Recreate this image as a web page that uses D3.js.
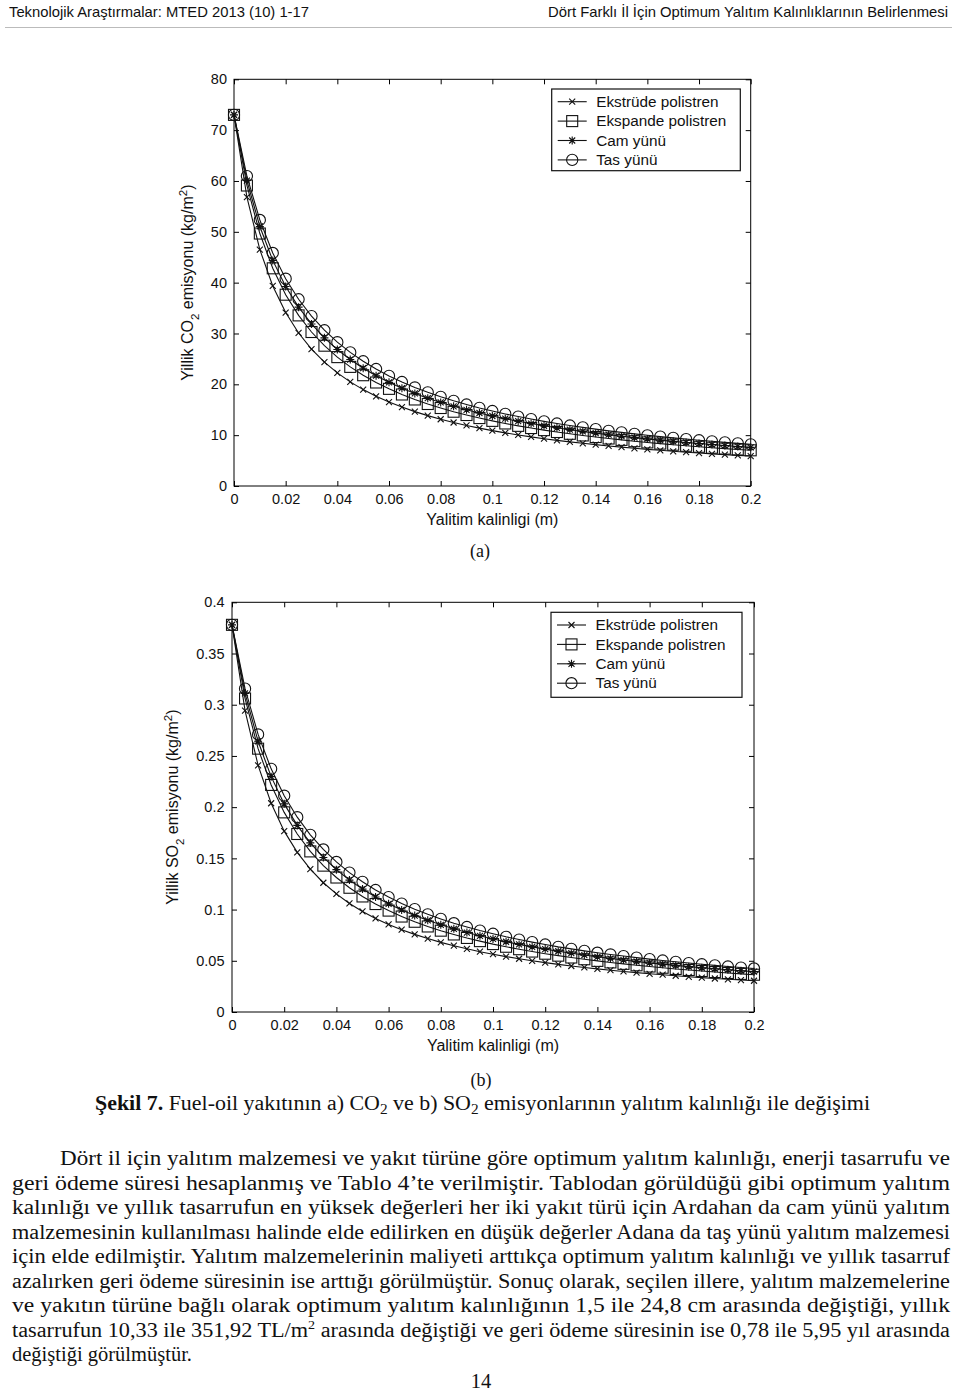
<!DOCTYPE html>
<html><head><meta charset="utf-8">
<script src="https://cdn.jsdelivr.net/npm/d3@7"></script>
<style>body{margin:0;background:#fff} svg{display:block}</style>
</head><body>
<svg id="page" width="960" height="1391"></svg>
<script>
// ---------------- DATA ----------------
const thickness = [0,0.005,0.01,0.015,0.02,0.025,0.03,0.035,0.04,0.045,0.05,0.055,0.06,0.065,0.07,0.075,0.08,0.085,0.09,0.095,0.1,0.105,0.11,0.115,0.12,0.125,0.13,0.135,0.14,0.145,0.15,0.155,0.16,0.165,0.17,0.175,0.18,0.185,0.19,0.195,0.2];
const seriesNames = ["Ekstrüde polistren","Ekspande polistren","Cam yünü","Tas yünü"];

const co2Ekstrude = [73.00,56.81,46.50,39.35,34.11,30.10,26.94,24.37,22.26,20.48,18.96,17.65,16.52,15.52,14.63,13.84,13.13,12.49,11.91,11.38,10.90,10.45,10.04,9.66,9.31,8.98,8.68,8.40,8.13,7.88,7.64,7.42,7.21,7.02,6.83,6.65,6.48,6.32,6.17,6.03,5.89];
const co2Ekspande = [73.00,59.11,49.66,42.82,37.63,33.56,30.29,27.60,25.35,23.43,21.79,20.36,19.11,18.00,17.02,16.13,15.34,14.61,13.96,13.36,12.81,12.30,11.83,11.40,10.99,10.62,10.27,9.94,9.63,9.34,9.07,8.81,8.57,8.34,8.12,7.91,7.72,7.53,7.35,7.18,7.02];
const co2Cam = [73.00,60.08,51.05,44.38,39.25,35.18,31.88,29.14,26.84,24.87,23.17,21.69,20.39,19.24,18.20,17.28,16.44,15.68,14.99,14.36,13.77,13.24,12.74,12.28,11.85,11.45,11.08,10.73,10.40,10.09,9.80,9.52,9.26,9.02,8.78,8.56,8.35,8.15,7.96,7.78,7.60];
const co2Tas = [73.00,60.96,52.33,45.84,40.78,36.73,33.41,30.64,28.29,26.28,24.54,23.01,21.66,20.46,19.39,18.42,17.55,16.75,16.03,15.36,14.75,14.18,13.66,13.17,12.72,12.29,11.90,11.53,11.18,10.85,10.54,10.25,9.97,9.71,9.46,9.23,9.00,8.79,8.58,8.39,8.20];

const so2Ekstrude = [0.378,0.2942,0.2408,0.2038,0.1766,0.1559,0.1395,0.1262,0.1153,0.1060,0.0982,0.0914,0.0855,0.0804,0.0758,0.0717,0.0680,0.0647,0.0617,0.0589,0.0564,0.0541,0.0520,0.0500,0.0482,0.0465,0.0449,0.0435,0.0421,0.0408,0.0396,0.0384,0.0373,0.0364,0.0354,0.0344,0.0336,0.0327,0.0319,0.0312,0.0305];
const so2Ekspande = [0.378,0.3061,0.2571,0.2217,0.1949,0.1738,0.1568,0.1429,0.1313,0.1213,0.1128,0.1054,0.0990,0.0932,0.0881,0.0835,0.0794,0.0757,0.0723,0.0692,0.0663,0.0637,0.0613,0.0590,0.0569,0.0550,0.0532,0.0515,0.0499,0.0484,0.0470,0.0456,0.0444,0.0432,0.0420,0.0410,0.0400,0.0390,0.0381,0.0372,0.0364];
const so2Cam = [0.378,0.3111,0.2643,0.2298,0.2032,0.1822,0.1651,0.1509,0.1390,0.1288,0.1200,0.1123,0.1056,0.0996,0.0942,0.0895,0.0851,0.0812,0.0776,0.0744,0.0713,0.0686,0.0660,0.0636,0.0614,0.0593,0.0574,0.0556,0.0539,0.0522,0.0507,0.0493,0.0479,0.0467,0.0455,0.0443,0.0432,0.0422,0.0412,0.0403,0.0394];
const so2Tas = [0.378,0.3157,0.2710,0.2374,0.2112,0.1902,0.1730,0.1587,0.1465,0.1361,0.1271,0.1191,0.1122,0.1059,0.1004,0.0954,0.0909,0.0867,0.0830,0.0795,0.0764,0.0734,0.0707,0.0682,0.0659,0.0636,0.0616,0.0597,0.0579,0.0562,0.0546,0.0531,0.0516,0.0503,0.0490,0.0478,0.0466,0.0455,0.0444,0.0434,0.0425];

const xTicks = [0,0.02,0.04,0.06,0.08,0.1,0.12,0.14,0.16,0.18,0.2];
const xTickLabels = ["0","0.02","0.04","0.06","0.08","0.1","0.12","0.14","0.16","0.18","0.2"];
const co2Ticks = [0,10,20,30,40,50,60,70,80];
const co2TickLabels = ["0","10","20","30","40","50","60","70","80"];
const so2Ticks = [0,0.05,0.1,0.15,0.2,0.25,0.3,0.35,0.4];
const so2TickLabels = ["0","0.05","0.1","0.15","0.2","0.25","0.3","0.35","0.4"];

const headerLeft = "Teknolojik Araştırmalar: MTED 2013 (10) 1-17";
const headerRight = "Dört Farklı İl İçin Optimum Yalıtım Kalınlıklarının Belirlenmesi";
const bodyLines = [
  "Dört il için yalıtım malzemesi ve yakıt türüne göre optimum yalıtım kalınlığı, enerji tasarrufu ve",
  "geri ödeme süresi hesaplanmış ve Tablo 4’te verilmiştir. Tablodan görüldüğü gibi optimum yalıtım",
  "kalınlığı ve yıllık tasarrufun en yüksek değerleri her iki yakıt türü için Ardahan da cam yünü yalıtım",
  "malzemesinin kullanılması halinde elde edilirken en düşük değerler Adana da taş yünü yalıtım malzemesi",
  "için elde edilmiştir. Yalıtım malzemelerinin maliyeti arttıkça optimum yalıtım kalınlığı ve yıllık tasarruf",
  "azalırken geri ödeme süresinin ise arttığı görülmüştür. Sonuç olarak, seçilen illere, yalıtım malzemelerine",
  "ve yakıtın türüne bağlı olarak optimum yalıtım kalınlığının 1,5 ile 24,8 cm arasında değiştiği, yıllık",
  "tasarrufun 10,33 ile 351,92 TL/m^2 arasında değiştiği ve geri ödeme süresinin ise 0,78 ile 5,95 yıl arasında",
  "değiştiği görülmüştür."
];

// ---------------- DRAWING ----------------
const SANS = "'Liberation Sans', Arial, Helvetica, sans-serif";
const SERIF = "'Liberation Serif', 'Times New Roman', serif";
const svg = d3.select("#page");
svg.append("rect").attr("width",960).attr("height",1391).attr("fill","#fff");

// header
svg.append("text").attr("x",9).attr("y",17).attr("font-family","'Liberation Sans Narrow', 'Liberation Sans', Arial, sans-serif")
  .attr("font-size",15).attr("textLength",300).attr("lengthAdjust","spacingAndGlyphs").attr("fill","#111").text(headerLeft);
svg.append("text").attr("x",548).attr("y",17).attr("font-family","'Liberation Sans Narrow', 'Liberation Sans', Arial, sans-serif")
  .attr("font-size",15).attr("textLength",400).attr("lengthAdjust","spacingAndGlyphs").attr("fill","#111").text(headerRight);
svg.append("line").attr("x1",5).attr("x2",952).attr("y1",27.5).attr("y2",27.5).attr("stroke","#bbb").attr("stroke-width",1);

// marker shapes
function drawMarker(sel, type) {
  if (type === 0) { // x-mark
    sel.append("path").attr("d","M-3,-3L3,3M-3,3L3,-3");
  } else if (type === 1) { // square
    sel.append("rect").attr("x",-5.5).attr("y",-5.5).attr("width",11).attr("height",11);
  } else if (type === 2) { // asterisk
    sel.append("path").attr("d","M-4,0L4,0M0,-4L0,4M-3,-3L3,3M-3,3L3,-3");
  } else { // circle
    sel.append("circle").attr("r",5.6);
  }
}

function drawChart(cfg) {
  const g = svg.append("g");
  const x = d3.scaleLinear().domain([0,0.2]).range([cfg.left,cfg.right]);
  const y = d3.scaleLinear().domain([0,cfg.yMax]).range([cfg.bottom,cfg.top]);

  const styleAxis = a => {
    a.select(".domain").remove();
    a.selectAll(".tick line").attr("stroke","#000").attr("stroke-width",1);
    a.selectAll("text").attr("font-family",SANS).attr("font-size",14.5).attr("fill","#111");
  };
  g.append("g").attr("transform",`translate(0,${cfg.bottom})`)
    .call(d3.axisBottom(x).tickValues(xTicks).tickFormat((d,i)=>xTickLabels[i]).tickSizeInner(-5).tickSizeOuter(0).tickPadding(7.5))
    .call(styleAxis);
  g.append("g").attr("transform",`translate(0,${cfg.top})`)
    .call(d3.axisTop(x).tickValues(xTicks).tickFormat("").tickSizeInner(-5).tickSizeOuter(0))
    .call(styleAxis);
  g.append("g").attr("transform",`translate(${cfg.left},0)`)
    .call(d3.axisLeft(y).tickValues(cfg.yTicks).tickFormat((d,i)=>cfg.yTickLabels[i]).tickSizeInner(-5).tickSizeOuter(0).tickPadding(cfg.yPad))
    .call(styleAxis);
  g.append("g").attr("transform",`translate(${cfg.right},0)`)
    .call(d3.axisRight(y).tickValues(cfg.yTicks).tickFormat("").tickSizeInner(-5).tickSizeOuter(0))
    .call(styleAxis);
  g.append("rect").attr("x",cfg.left).attr("y",cfg.top).attr("width",cfg.right-cfg.left).attr("height",cfg.bottom-cfg.top)
    .attr("fill","none").attr("stroke","#000").attr("stroke-width",1);

  // series
  const line = d3.line().x((d,i)=>x(thickness[i])).y(d=>y(d));
  cfg.series.forEach((vals,si) => {
    const sg = g.append("g").attr("fill","none").attr("stroke","#111").attr("stroke-width",1.1);
    sg.append("path").attr("d",line(vals));
    vals.forEach((v,i) => {
      const m = sg.append("g").attr("transform",`translate(${x(thickness[i])},${y(v)})`);
      drawMarker(m, si);
    });
  });

  // legend
  const L = cfg.legend;
  const lg = g.append("g");
  lg.append("rect").attr("x",L.x).attr("y",L.y).attr("width",L.w).attr("height",L.h)
    .attr("fill","#fff").attr("stroke","#111").attr("stroke-width",1.2);
  seriesNames.forEach((name,si) => {
    const cy = L.y + 12.7 + si*19.4;
    const row = lg.append("g").attr("fill","none").attr("stroke","#111").attr("stroke-width",1.1);
    row.append("line").attr("x1",L.x+6).attr("x2",L.x+35).attr("y1",cy).attr("y2",cy);
    drawMarker(row.append("g").attr("transform",`translate(${L.x+20.5},${cy})`), si);
    lg.append("text").attr("x",L.x+44.5).attr("y",cy+5.2).attr("font-family",SANS).attr("font-size",15.3)
      .attr("fill","#111").text(name);
  });

  // axis labels
  g.append("text").attr("x",(cfg.left+cfg.right)/2).attr("y",cfg.bottom+39).attr("text-anchor","middle")
    .attr("font-family",SANS).attr("font-size",16).attr("fill","#111").text("Yalitim kalinligi (m)");
  const yl = g.append("text").attr("transform",`translate(${cfg.yLabelX},${(cfg.top+cfg.bottom)/2}) rotate(-90)`)
    .attr("text-anchor","middle").attr("font-family",SANS).attr("font-size",16).attr("fill","#111");
  yl.append("tspan").text(`Yillik ${cfg.gas}`);
  yl.append("tspan").attr("font-size",11.5).attr("dy",5.5).text("2");
  yl.append("tspan").attr("dy",-5.5).text(" emisyonu (kg/m");
  yl.append("tspan").attr("font-size",11.5).attr("dy",-6.5).text("2");
  yl.append("tspan").attr("dy",6.5).text(")");
}

drawChart({left:234,right:750.7,top:79.3,bottom:486,yMax:80,yTicks:co2Ticks,yTickLabels:co2TickLabels,yPad:7,
  series:[co2Ekstrude,co2Ekspande,co2Cam,co2Tas],legend:{x:551.7,y:89,w:188.6,h:81.7},yLabelX:193,gas:"CO"});
drawChart({left:232,right:754,top:602.3,bottom:1012,yMax:0.4,yTicks:so2Ticks,yTickLabels:so2TickLabels,yPad:7.5,
  series:[so2Ekstrude,so2Ekspande,so2Cam,so2Tas],legend:{x:551,y:612.3,w:191,h:85},yLabelX:178,gas:"SO"});

// sub-figure labels
svg.append("text").attr("x",480).attr("y",557).attr("text-anchor","middle").attr("font-family",SERIF).attr("font-size",18).attr("fill","#111").text("(a)");
svg.append("text").attr("x",481).attr("y",1086).attr("text-anchor","middle").attr("font-family",SERIF).attr("font-size",18).attr("fill","#111").text("(b)");

// caption
const cap = svg.append("text").attr("x",95).attr("y",1110).attr("font-family",SERIF).attr("font-size",20)
  .attr("fill","#111").attr("textLength",775).attr("lengthAdjust","spacingAndGlyphs");
cap.append("tspan").attr("font-weight","bold").text("Şekil 7.");
cap.append("tspan").text(" Fuel-oil yakıtının a) CO");
cap.append("tspan").attr("font-size",14).attr("dy",4).text("2");
cap.append("tspan").attr("dy",-4).text(" ve b) SO");
cap.append("tspan").attr("font-size",14).attr("dy",4).text("2");
cap.append("tspan").attr("dy",-4).text(" emisyonlarının yalıtım kalınlığı ile değişimi");

// body text
const baselines = [1165,1189.5,1214,1238.5,1263,1287.5,1312,1336.5,1361];
bodyLines.forEach((ln,i) => {
  const x0 = i === 0 ? 60 : 12;
  const t = svg.append("text").attr("x",x0).attr("y",baselines[i]).attr("font-family",SERIF).attr("font-size",20.5).attr("fill","#111");
  if (i < bodyLines.length-1) t.attr("textLength",950-x0).attr("lengthAdjust","spacingAndGlyphs");
  const parts = ln.split("^2");
  parts.forEach((p,k) => {
    if (k > 0) { t.append("tspan").attr("font-size",13).attr("dy",-8).text("2"); t.append("tspan").attr("dy",8).text(p); }
    else t.append("tspan").text(p);
  });
});
svg.append("text").attr("x",481).attr("y",1388).attr("text-anchor","middle").attr("font-family",SERIF).attr("font-size",20.5).attr("fill","#111").text("14");
</script>
</body></html>
